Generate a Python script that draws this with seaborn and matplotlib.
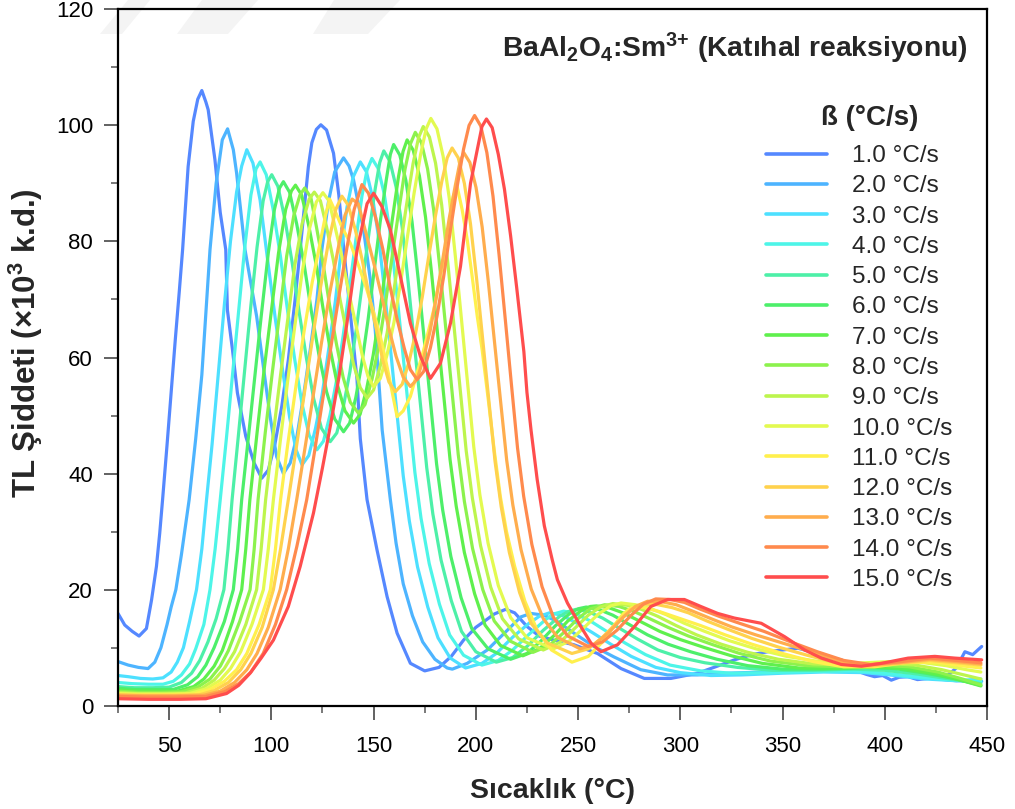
import matplotlib
matplotlib.use("Agg")
import matplotlib.pyplot as plt
import pandas as pd
import seaborn as sns
from matplotlib.patches import Polygon
from matplotlib.ticker import MultipleLocator

# Heating-rate labels and line colours
rate_labels = ["1.0 °C/s", "2.0 °C/s", "3.0 °C/s", "4.0 °C/s", "5.0 °C/s",
               "6.0 °C/s", "7.0 °C/s", "8.0 °C/s", "9.0 °C/s", "10.0 °C/s",
               "11.0 °C/s", "12.0 °C/s", "13.0 °C/s", "14.0 °C/s", "15.0 °C/s"]
colors = ["#5588ff", "#4db4ff", "#4de0ff", "#4df5e8", "#4df0a8",
          "#4def6a", "#5ff04d", "#8cf24d", "#bdf54d", "#e3fa50",
          "#fff04d", "#ffd24d", "#ffad4d", "#ff8a4d", "#ff4d4d"]

# Glow curves: temperature (°C) and TL intensity (x10^3 a.u.)
T_1 = [25, 28.3, 32, 35.3, 38.9, 41.4, 43.8, 45.4, 46.8, 49, 51, 53, 55, 56.6, 59.3, 61.8, 64, 66, 68, 69.1,
       72.4, 75, 77.7, 78.5, 81, 83.4, 87.5, 91.6, 95.3, 98.5, 101.8, 105.1, 108.3, 111.6, 114.1, 118.1, 119.8,
       122, 124.2, 127, 130.4, 133, 135.3, 138.6, 141.9, 143.5, 146.8, 151.7, 156.6, 161.5, 168, 175, 182, 188,
       194, 200, 204, 209, 214.6, 219, 225.2, 231, 238.2, 248, 259.5, 271, 282.4, 295.4, 308.5, 318, 326.5, 335,
       342.8, 350, 357.5, 363, 367.3, 372, 378.8, 383, 387, 391, 395, 399, 403.2, 407, 411.4, 416, 421.3, 426,
       431, 435, 439.2, 443, 447.4]
I_1 = [15.9, 13.9, 12.8, 12.0, 13.3, 18.2, 24.0, 29.7, 35.5, 45, 54, 63, 71.5, 78.6, 92.9, 100.7, 104.5, 106.0,
       104.0, 102.7, 94.1, 85.0, 78.6, 68.2, 61.3, 53.9, 46.4, 41.8, 39.2, 40.6, 45.2, 51.6, 59.6, 70.0, 78.6,
       92.9, 97.0, 99.3, 100.1, 99.2, 95.2, 88.0, 79.1, 67.7, 56.2, 46.0, 35.5, 26.8, 18.8, 12.5, 7.3, 6.0, 6.6,
       8.5, 11.3, 13.5, 14.5, 15.8, 16.6, 16.0, 13.6, 12.0, 11.3, 10.5, 9.0, 6.4, 4.7, 4.7, 5.6, 6.8, 7.9, 8.8,
       9.3, 9.6, 9.9, 9.4, 8.7, 8.3, 7.9, 6.8, 5.9, 5.4, 5.0, 5.2, 4.4, 4.9, 5.0, 4.5, 4.7, 5.0, 5.3, 6.5, 9.3,
       8.8, 10.2]

T_2 = [25, 30, 35, 39.7, 43, 46, 49, 51, 53.3, 56, 59.8, 63, 66, 70, 73, 76, 78.6, 81.4, 83, 87.1, 92.8, 96.1,
       99.4, 102.6, 105.9, 109.2, 112.5, 115.7, 119, 122.3, 124.7, 128, 131, 135.3, 138, 140.2, 145.1, 148.4,
       150.8, 152.5, 154.2, 158.2, 161, 164.5, 169, 174, 180, 186, 188.5, 195.8, 205.6, 215.4, 222, 226.9,
       233.3, 239.9, 248, 257.8, 267.6, 280.7, 293.8, 308.5, 323.2, 340, 360, 380, 400, 420, 435, 447.4]
I_2 = [7.6, 7.0, 6.6, 6.4, 7.5, 10, 14, 17, 20, 26, 35.5, 46, 57, 78.6, 90, 97.5, 99.4, 95.8, 91.8, 78.6, 67.1,
       58.4, 49.8, 42.9, 40.0, 41.8, 46.4, 53.3, 61.3, 70.0, 78.6, 87, 92, 94.4, 93, 90.6, 82, 73.4, 64.8, 56.2,
       47.5, 35.5, 28, 21, 15.5, 11, 8, 6.5, 6.3, 7.3, 9.6, 13, 15.3, 15.9, 15.6, 14.5, 12.5, 10.2, 8.4, 6.2,
       5.3, 5.3, 5.6, 5.8, 6.0, 6.1, 5.5, 4.8, 4.3, 4.2]

T_3 = [25, 30, 36, 42, 47, 51, 54, 57, 60, 63.4, 66, 68.3, 71, 74, 77, 80, 83, 85.5, 88, 91, 94.5, 98, 102,
       105.5, 109, 112, 115, 118.3, 121.6, 124.8, 128, 131.3, 134, 137, 140, 143.5, 146.5, 149.5, 152.5, 155.5,
       158.5, 161.5, 164.5, 167.5, 171.5, 176.5, 181.5, 187.5, 195, 203, 210, 218, 226, 231, 236, 242, 249, 257,
       266, 276, 288, 300, 315, 330, 350, 370, 390, 405, 420, 435, 447]
I_3 = [5.2, 5.0, 4.7, 4.6, 4.8, 5.8, 7.5, 10, 14.5, 20, 27, 35.5, 45, 57, 69, 80, 88.5, 93, 95.8, 93.5, 87.1,
       77.3, 66.5, 57.8, 49.6, 44.2, 41.5, 43.1, 47.8, 53.5, 61.3, 69.7, 78, 85.9, 91.1, 93.7, 92, 87.6, 80.6,
       71, 60.6, 50.1, 39.6, 31.8, 23.9, 17, 11.7, 8.2, 6.5, 7.3, 9, 11.8, 14.2, 15.4, 16.0, 15.6, 14.3, 12.6,
       10.6, 8.5, 6.6, 5.7, 5.2, 5.3, 5.6, 5.8, 5.7, 5.2, 4.6, 4.3, 4.6]

T_4 = [25, 32, 40, 47, 52, 56, 60, 63, 67, 70, 72.5, 75, 78, 81, 84, 87, 90, 92.5, 94.5, 97.5, 101, 104.5, 108,
       111.5, 115, 118.5, 122.3, 125.5, 128.7, 131.9, 135.1, 138.3, 141.3, 144.3, 146.8, 149.2, 152.2, 155.2,
       158.2, 161.2, 164.2, 167.2, 170.2, 173.2, 177.2, 182.2, 187.2, 194, 203, 211, 218, 226, 234, 238, 243,
       249, 256, 264, 273, 283, 295, 310, 325, 345, 365, 385, 400, 415, 430, 447]
I_4 = [4.0, 3.8, 3.7, 3.7, 4.2, 5.3, 7.2, 9.8, 14, 20, 27, 35.5, 46, 57, 68, 79, 88, 92.5, 93.7, 91.5, 85.3,
       77.3, 67.9, 59.5, 52, 46.6, 44.1, 45.6, 50.1, 56.1, 63.7, 72.2, 80.2, 87.8, 92.3, 94.3, 92.6, 88.2, 81.2,
       71.6, 61.1, 50.7, 40.2, 32.3, 24.5, 17.5, 12.2, 8.7, 7.0, 7.8, 9.6, 12.3, 14.8, 15.8, 16.3, 15.8, 14.6,
       12.8, 10.8, 8.8, 7.0, 6.0, 5.6, 5.7, 5.9, 6.0, 5.6, 5.0, 4.5, 4.2]

T_5 = [25, 33, 42, 50, 56, 61, 65, 69, 73, 76.8, 78.8, 80.8, 84, 87, 90, 93, 96, 98.2, 100.2, 103.2, 106.7,
       110.2, 113.7, 117.2, 120.7, 124.5, 128.8, 132, 135.2, 138.4, 141.6, 144.8, 147.8, 150.8, 153, 155, 158,
       161, 164, 167, 170, 173, 176, 179, 183, 188, 193, 200, 210, 218, 225, 233, 241, 245, 249, 255, 262, 270,
       279, 289, 300, 312, 328, 345, 365, 385, 400, 415, 430, 447]
I_5 = [3.3, 3.1, 3.1, 3.2, 4.0, 5.6, 7.8, 11, 15, 20, 27, 35.5, 47, 58, 69, 79, 87, 90.3, 91.5, 89.5, 83.7,
       76.3, 67.6, 59.8, 52.9, 47.8, 45.5, 47, 51.5, 57.5, 65, 73.6, 81.6, 89.1, 93.6, 95.6, 93.8, 89.4, 82.4,
       72.7, 62.1, 51.6, 41, 33, 25.1, 18.1, 12.8, 9.3, 7.5, 8.3, 10.2, 13, 15.4, 16.2, 16.6, 16.2, 15.1, 13.4,
       11.5, 9.6, 8.3, 7.4, 6.6, 6.1, 6.1, 6.3, 6.1, 5.5, 4.7, 3.8]

T_6 = [25, 33, 42, 52, 59, 64, 68, 72, 77, 81.4, 83.5, 85.5, 89, 92, 95, 98.5, 101.5, 104, 105.9, 108.9, 112.4,
       116, 119.6, 123.2, 127, 131, 135.3, 138.3, 141.3, 144.3, 147.3, 150.3, 153.2, 156.2, 158.2, 159.8, 162.8,
       165.8, 168.8, 171.8, 174.8, 177.8, 180.8, 183.8, 187.8, 192.8, 198, 206, 217, 225, 232, 239, 246, 250,
       254, 260, 267, 275, 284, 294, 305, 318, 333, 350, 370, 390, 405, 420, 435, 447]
I_6 = [3.0, 2.8, 2.8, 2.8, 3.6, 5.0, 7, 10, 14.5, 20, 27, 35.5, 47, 57, 67, 78, 85.5, 89.2, 90.3, 88.5, 83,
       76.1, 67.9, 60.6, 54.1, 49.4, 47.2, 48.7, 53.1, 59.1, 66.5, 75, 83.3, 90.6, 95, 96.7, 94.9, 90.5, 83.4,
       73.6, 63, 52.4, 41.7, 33.7, 25.7, 18.6, 13.3, 9.8, 8.0, 9.0, 11.2, 13.8, 15.9, 16.7, 17.0, 16.6, 15.6, 14,
       12.2, 10.6, 9.3, 8.0, 6.9, 6.3, 6.3, 6.6, 6.4, 5.6, 4.6, 3.5]

T_7 = [25, 34, 44, 54, 62, 67, 72, 76, 81, 85.5, 87.5, 89.5, 93, 96.5, 100, 103.5, 107, 109.8, 111.8, 114.8,
       118.3, 121.8, 125.3, 128.8, 132.3, 136, 140.2, 143.4, 146.6, 149.8, 153, 156.2, 159.2, 162.2, 164.4,
       166.4, 169.4, 172.4, 175.4, 178.4, 181.4, 184.4, 187.4, 190.4, 194.4, 199.4, 204.5, 212, 223, 231, 238,
       245, 252, 256, 259, 265, 272, 280, 290, 300, 312, 325, 340, 358, 378, 395, 410, 425, 437, 447]
I_7 = [2.7, 2.5, 2.5, 2.5, 3.3, 4.6, 6.8, 9.5, 14.5, 20, 27, 35.5, 47, 58, 68, 78, 85.5, 88.7, 89.7, 88, 82.7,
       76.2, 68.4, 61.4, 55.3, 50.8, 48.7, 50.2, 54.6, 60.4, 67.8, 76.1, 83.9, 91.2, 95.5, 97.5, 95.7, 91.3,
       84.2, 74.4, 63.7, 53.1, 42.4, 34.4, 26.4, 19.3, 13.9, 10.4, 8.6, 9.8, 12, 14.6, 16.5, 17.1, 17.2, 16.9,
       16, 14.6, 12.8, 11.4, 10.0, 8.6, 7.3, 6.5, 6.4, 6.7, 6.4, 5.5, 4.4, 3.4]

T_8 = [25, 35, 45, 56, 64, 70, 75, 79, 84.5, 89.6, 91.6, 93.5, 97, 100.5, 104, 107.5, 111, 114, 116.3, 119.3,
       122, 125.2, 128.5, 131.8, 135.1, 138.6, 142.6, 145.8, 149.2, 152.5, 155.8, 159.1, 162.3, 165.4, 168,
       170.4, 173.4, 176.4, 179.4, 182.4, 185.4, 188.4, 191.4, 194.4, 198.4, 203.4, 209, 217, 228, 236, 243,
       250, 256, 263, 270, 277, 285, 294, 304, 316, 329, 344, 362, 380, 397, 412, 426, 438, 447]
I_8 = [2.5, 2.3, 2.3, 2.4, 3.2, 4.6, 6.8, 9.5, 14.5, 20, 27, 35.5, 47, 57.5, 67.5, 77.5, 84.5, 88, 89.2, 87.6,
       82.6, 76.4, 69, 62.4, 56.6, 52.3, 50.4, 51.9, 56.2, 62, 69.3, 77.5, 85.2, 92.5, 96.8, 98.8, 97, 92.5,
       85.4, 75.5, 64.7, 54, 43.3, 35.2, 27.1, 20, 14.6, 11.1, 9.2, 10.4, 12.6, 15, 16.7, 17.4, 17.1, 16.3, 15,
       13.5, 12.0, 10.5, 9.0, 7.7, 6.9, 6.7, 7.0, 6.7, 5.8, 4.6, 3.6]

T_9 = [25, 35, 46, 58, 66, 72, 77, 82, 87.5, 92.8, 95, 97.2, 101, 104.5, 108, 111.5, 115, 118.5, 121, 124, 127,
       130.3, 133.6, 137, 140.3, 143.5, 146.8, 150, 153.3, 156.6, 159.8, 163, 166.2, 169.3, 172, 174.3, 177.3,
       180.3, 183.3, 186.3, 189.3, 192.3, 195.3, 198.3, 202.3, 207.3, 213, 221, 233, 241, 248, 255, 261, 267,
       274, 281, 289, 298, 308, 320, 333, 348, 365, 383, 400, 415, 428, 440, 447]
I_9 = [2.3, 2.1, 2.1, 2.2, 3.0, 4.4, 6.4, 9.3, 14, 20, 27, 35.5, 47, 57, 66.5, 76, 83, 87.3, 88.5, 87, 82.5,
       76.8, 70, 64, 58.7, 54.8, 53, 54.4, 58.6, 64.2, 71.2, 79, 86.5, 93.4, 97.9, 99.8, 98, 93.5, 86.3, 76.3,
       65.5, 54.7, 43.9, 35.8, 27.6, 20.4, 15, 11.5, 9.6, 10.9, 13.2, 15.6, 17, 17.6, 17.3, 16.6, 15.4, 13.8,
       12.2, 10.6, 9.2, 8.0, 7.2, 7.0, 7.3, 7.0, 6.2, 5.2, 4.6]

T_10 = [25, 36, 48, 60, 68, 75, 80, 85, 90.5, 96.1, 98.5, 101, 104.5, 108, 111.5, 115, 118.5, 122, 125.2,
        128.2, 131, 134.5, 138, 141.5, 144.5, 147.3, 150, 153.3, 156.6, 160, 163.3, 166.6, 169.8, 173, 175.7,
        178, 181, 184, 187, 190, 193, 196, 199, 202, 206, 211, 217, 225, 238, 246, 253, 260, 266, 271, 278, 285,
        293, 302, 312, 324, 337, 352, 368, 385, 402, 417, 430, 440, 447]
I_10 = [2.1, 2.0, 2.0, 2.1, 2.9, 4.4, 6.4, 9.3, 14, 20, 27, 35.5, 46, 56, 65.5, 74.5, 82, 86.8, 88.4, 87, 82.7,
        77.4, 71, 65.4, 60.3, 56.7, 55, 56.4, 60.5, 66.1, 73.1, 80.9, 88.3, 95, 99.4, 101.2, 99.4, 94.7, 87.5,
        77.4, 66.5, 55.5, 44.6, 36.3, 28, 20.7, 15.2, 11.7, 9.8, 11.2, 13.5, 15.8, 17.2, 17.7, 17.4, 16.8, 15.7,
        14.2, 12.8, 11.2, 9.8, 8.5, 7.6, 7.3, 7.6, 7.5, 6.9, 6.2, 5.8]

T_11 = [25, 36, 50, 62, 70, 77, 83, 88, 94, 99.5, 102, 104.5, 108, 112, 116, 120, 124, 126.5, 128.5, 131.2,
        134.5, 138.6, 142.5, 146.7, 150, 153.3, 156, 158.2, 161.5, 164.5, 168, 171, 174.5, 179.4, 184.3, 187,
        189, 190.9, 193.3, 195.8, 198.2, 200.7, 203.1, 206, 209, 212, 215, 219, 224, 230, 237, 247, 255, 262,
        268, 272, 276, 282, 290, 300, 310, 322, 335, 350, 365, 380, 395, 410, 425, 437, 447]
I_11 = [2.0, 1.9, 1.9, 2.0, 2.8, 4.2, 6.2, 9.0, 14, 20, 27, 35.5, 45, 55, 64.5, 73, 80, 84.5, 87.3, 85.2, 82.5,
        79.7, 76, 71.7, 67.8, 63.6, 59.4, 55.6, 49.8, 50.8, 53.3, 57, 61.3, 68.2, 76.9, 83, 87.8, 89.4, 85.5,
        80.3, 74, 67.1, 61.3, 53, 44, 36, 30, 24, 18, 13, 9.6, 7.5, 8.5, 11, 14, 15.8, 16.9, 16.9, 16.2, 15,
        13.8, 12.2, 10.6, 9.0, 7.6, 6.7, 6.7, 7.4, 7.5, 6.9, 6.5]

T_12 = [25, 38, 52, 65, 72, 79, 85, 90, 95.5, 101, 104.5, 108.3, 112, 116, 120, 124, 128, 131.5, 134.5, 137.5,
        141, 144.5, 148, 151.5, 154.5, 157.5, 160.6, 164, 167.2, 170.5, 173.8, 177, 180.2, 183.4, 186, 188.4,
        191.4, 194.4, 197.4, 200.4, 203.4, 206.4, 209.4, 212.4, 216.4, 221.4, 227, 235, 247, 255, 262, 269, 276,
        282, 289, 296, 304, 313, 323, 335, 348, 362, 377, 392, 407, 422, 435, 447]
I_12 = [1.9, 1.8, 1.8, 1.9, 2.6, 4.0, 6.2, 9, 13.5, 20, 27, 35.5, 44, 53.5, 63, 72, 80, 85.5, 87.8, 86.3, 82.1,
        76.7, 70.3, 64.6, 59.5, 55.8, 54.1, 55.4, 59.1, 64.1, 70.4, 77.5, 84.3, 90.4, 94.4, 96.1, 94.4, 90, 83,
        73.5, 63, 52.5, 42.1, 34.3, 26.4, 19.5, 14.2, 10.8, 9.0, 9.8, 11.8, 14.3, 16.6, 17.5, 17.4, 16.9, 16,
        14.6, 13.2, 11.6, 10.1, 8.7, 7.3, 6.8, 7.3, 7.8, 7.4, 7.0]

T_13 = [25, 38, 52, 67, 75, 82, 88, 93, 98.5, 104.3, 108.3, 112.4, 116.5, 120.5, 124.5, 128.5, 132.5, 136, 139.5,
        142.5, 146, 150, 154, 157.5, 161, 164.5, 168, 171.2, 174.4, 177.6, 180.8, 184, 187, 190, 192.2, 194.1,
        197.1, 200.1, 203.1, 206.1, 209.1, 212.1, 215.1, 218.1, 222.1, 227.1, 233, 240, 251, 258, 265, 272, 278,
        284, 291, 298, 306, 315, 325, 337, 350, 364, 378, 392, 407, 422, 435, 447]
I_13 = [1.8, 1.7, 1.7, 1.8, 2.5, 4.0, 6.2, 9, 13.5, 20, 27, 35.5, 44.5, 53.5, 62.5, 71, 78.5, 84.5, 87.3, 86.5,
        81.8, 76.4, 70.5, 65, 60.2, 56.6, 55, 56.2, 59.8, 64.5, 70.6, 77.3, 84, 89.7, 93.6, 95.3, 93.6, 89.3,
        82.5, 73.1, 62.8, 52.5, 42.3, 34.6, 26.9, 20.1, 15, 11.8, 9.8, 10.6, 12.6, 15.2, 17.1, 18.0, 17.9, 17.4,
        16.3, 15.0, 13.6, 12.2, 10.8, 9.3, 7.7, 7.0, 7.4, 8.0, 7.6, 7.2]

T_14 = [25, 38, 52, 68, 77, 84, 90, 96, 102, 107.5, 112.5, 117.3, 121, 125, 129, 133, 137, 140.5, 144.3, 147.5,
        151, 154.5, 158, 161.5, 165, 168, 171.3, 174.5, 177.8, 181, 184.3, 187.5, 190.7, 194, 196.7, 199.4,
        202.4, 205.4, 208.4, 211.4, 214.4, 217.4, 220.4, 223.4, 227.4, 232.4, 238, 245, 255, 262, 269, 276, 282,
        288, 295, 302, 310, 319, 329, 341, 354, 367, 380, 393, 408, 422, 435, 447]
I_14 = [1.6, 1.5, 1.5, 1.6, 2.4, 3.8, 5.8, 9, 14, 20, 27.5, 35.5, 43.5, 52.5, 61.5, 70.5, 79, 85.5, 89.8, 88.3,
        84.1, 78.7, 72.3, 66.6, 61.6, 57.9, 56.2, 57.6, 61.7, 67.1, 74, 81.8, 89.1, 95.9, 100, 101.7, 99.9, 95.3,
        87.8, 77.6, 66.6, 55.4, 44.4, 36.1, 27.8, 20.5, 15.2, 12, 10.2, 11, 13, 15.6, 17.5, 18.4, 18.3, 17.8,
        16.6, 15.4, 14.2, 12.8, 11, 9.3, 7.8, 7.1, 7.6, 8.2, 7.8, 7.4]

T_15 = [25, 40, 55, 68, 78.1, 84, 89.6, 95, 101, 108.3, 114.1, 120.6, 125, 129, 133, 137, 141.9, 146.8, 150,
        154.1, 158.2, 163.1, 168, 172.9, 177.8, 182.7, 187.6, 192.5, 197.4, 200.7, 203, 205.2, 208, 211, 214,
        217, 220, 223.5, 225, 227, 230, 233.5, 237.4, 239.9, 244.8, 251.4, 256.3, 261.2, 269.3, 277.5, 285.6,
        293.8, 302, 310, 318.3, 326.5, 339.6, 351, 360.8, 369, 378.8, 388.6, 398.4, 411.4, 424.5, 434.3, 447.4]
I_15 = [1.2, 1.1, 1.1, 1.2, 2.1, 3.5, 5.6, 8.2, 11.3, 17.1, 24, 33.2, 41, 48.5, 56.5, 66, 78.5, 86.5, 88.3, 86,
        82, 74, 65.9, 60.2, 56.4, 59, 65.9, 75.7, 90, 95.8, 99.8, 101.1, 99.6, 95, 89, 81, 72, 61, 54, 47.5, 39,
        31, 25.1, 21.7, 17.7, 13.6, 10.8, 9.3, 10.5, 13.6, 17.1, 18.3, 18.3, 17.1, 15.9, 15.1, 14.2, 11.9, 9.6,
        8.2, 7.1, 6.8, 7.3, 8.2, 8.5, 8.2, 7.9]

temps = [T_1, T_2, T_3, T_4, T_5, T_6, T_7, T_8, T_9, T_10, T_11, T_12, T_13, T_14, T_15]
intens = [I_1, I_2, I_3, I_4, I_5, I_6, I_7, I_8, I_9, I_10, I_11, I_12, I_13, I_14, I_15]

df = pd.concat(
    [pd.DataFrame({"T": t, "TL": i, "rate": lab}) for t, i, lab in zip(temps, intens, rate_labels)],
    ignore_index=True,
)

sns.set_theme(style="white")
plt.rcParams["font.family"] = ["Liberation Sans", "DejaVu Sans"]
plt.rcParams["mathtext.fontset"] = "custom"
plt.rcParams["mathtext.rm"] = "Liberation Sans:bold"
plt.rcParams["mathtext.default"] = "rm"

W, H = 1015, 809
fig = plt.figure(figsize=(W / 100, H / 100), dpi=100)

# faint diagonal marks of the page background
for pts in ([(100, 34), (122, 34), (150, 0), (128, 0)],
            [(177, 34), (228, 34), (258, 0), (202, 0)],
            [(313, 34), (368, 34), (400, 0), (334, 0)]):
    fig.patches.append(Polygon([(x / W, 1 - y / H) for x, y in pts], closed=True,
                               transform=fig.transFigure, facecolor="#f4f4f4",
                               edgecolor="none", zorder=-5))

ax = fig.add_axes([118 / W, 1 - 705.7 / H, (987 - 118) / W, (705.7 - 9.3) / H])
ax.patch.set_alpha(0)

sns.lineplot(data=df, x="T", y="TL", hue="rate", hue_order=rate_labels, palette=colors,
             sort=False, estimator=None, linewidth=2.3, ax=ax)

ax.set_xlim(25, 450)
ax.set_ylim(0, 120)
ax.set_xticks([50, 100, 150, 200, 250, 300, 350, 400, 450])
ax.xaxis.set_minor_locator(MultipleLocator(25))
ax.yaxis.set_major_locator(MultipleLocator(20))
ax.yaxis.set_minor_locator(MultipleLocator(10))

ax.tick_params(axis="both", which="major", direction="out", length=10, width=1.3,
               color="#555555", labelsize=16, labelcolor="black",
               bottom=True, left=True, top=False, right=False)
ax.tick_params(axis="both", which="minor", direction="out", length=5, width=1.1,
               color="#555555", bottom=True, left=True, top=False, right=False)
ax.tick_params(axis="x", which="major", pad=12)
ax.tick_params(axis="y", which="major", pad=8)
for s in ax.spines.values():
    s.set_color("black")
    s.set_linewidth(1.6)

ax.set_xlabel("Sıcaklık (°C)", fontsize=20.5, fontweight="bold", labelpad=15)
ax.set_ylabel("TL Şiddeti (×10$^3$ k.d.)", fontsize=22.5, fontweight="bold")
ax.yaxis.set_label_coords(-0.084, 0.521)

ax.text(0.978, 0.944, "BaAl$_2$O$_4$:Sm$^{3{+}}$ (Katıhal reaksiyonu)", transform=ax.transAxes,
        ha="right", va="center", fontsize=20.3, fontweight="bold")

# legend heading and entries
fig.text(870 / W, 1 - 118 / H, "ß (°C/s)", ha="center", va="center",
         fontsize=20, fontweight="bold")
handles, labels = ax.get_legend_handles_labels()
leg = ax.legend(handles, labels, loc="upper left",
                bbox_to_anchor=(766 / W, 1 - 145 / H), bbox_transform=fig.transFigure,
                frameon=False, fontsize=17.5,
                handlelength=2.5, handletextpad=1.05, labelspacing=0.34, borderpad=0, borderaxespad=0)
for line in leg.get_lines():
    line.set_linewidth(2.6)

fig.savefig("out.png", dpi=100, facecolor="white")
